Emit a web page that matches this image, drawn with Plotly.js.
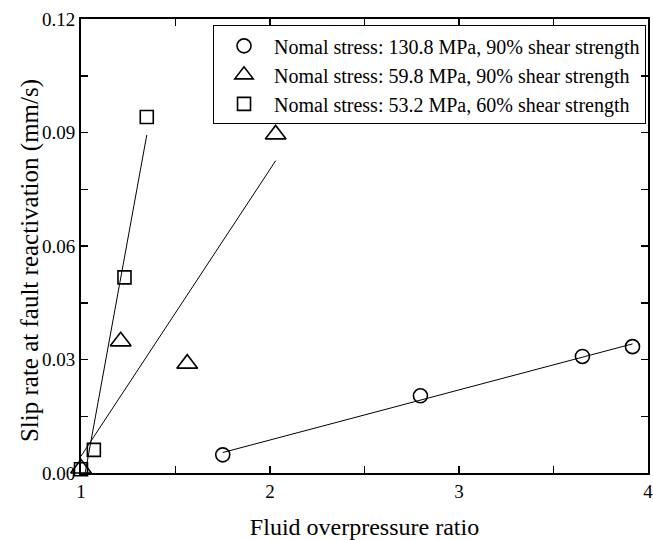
<!DOCTYPE html>
<html>
<head>
<meta charset="utf-8">
<script src="https://cdn.plot.ly/plotly-3.0.1.min.js"></script>
<style>
  html, body { margin: 0; padding: 0; background: #ffffff; }
  #chart { width: 653px; height: 540px; }
</style>
</head>
<body>
<div id="chart"></div>
<script>
// Fluid overpressure ratio (x) vs. slip rate at fault reactivation (mm/s) (y)
const seriesNames = [
  'Nomal stress: 130.8 MPa, 90% shear strength',
  'Nomal stress: 59.8 MPa, 90% shear strength',
  'Nomal stress: 53.2 MPa, 60% shear strength'
];

const circleX = [1.75, 2.796, 3.653, 3.918];
const circleY = [0.0048, 0.0204, 0.0308, 0.0334];

const triangleX = [1.0, 1.21, 1.562, 2.03];
const triangleY = [0.0012, 0.0348, 0.0289, 0.0895];

const squareX = [1.0, 1.068, 1.23, 1.348];
const squareY = [0.001, 0.0061, 0.0517, 0.0941];

const xTickVals = [1, 1.5, 2, 2.5, 3, 3.5, 4];
const xTickText = ['1', '', '2', '', '3', '', '4'];
const yTickVals = [0, 0.015, 0.03, 0.045, 0.06, 0.075, 0.09, 0.105, 0.12];
const yTickText = ['0.00', '', '0.03', '', '0.06', '', '0.09', '', '0.12'];

const xTitle = 'Fluid overpressure ratio';
const yTitle = 'Slip rate at fault reactivation (mm/s)';

// Least-squares straight line over the span of a series
function linearFit(xs, ys) {
  const n = xs.length;
  const mx = xs.reduce((a, b) => a + b, 0) / n;
  const my = ys.reduce((a, b) => a + b, 0) / n;
  let sxy = 0, sxx = 0;
  for (let i = 0; i < n; i++) {
    sxy += (xs[i] - mx) * (ys[i] - my);
    sxx += (xs[i] - mx) * (xs[i] - mx);
  }
  const slope = sxy / sxx;
  const icpt = my - slope * mx;
  const x0 = Math.min(...xs), x1 = Math.max(...xs);
  return { x: [x0, x1], y: [icpt + slope * x0, icpt + slope * x1] };
}

const FONT = 'Liberation Serif, Times New Roman, serif';

function fitTrace(xs, ys) {
  const f = linearFit(xs, ys);
  return {
    x: f.x, y: f.y, mode: 'lines', type: 'scatter',
    line: { color: '#000', width: 1 }, showlegend: false, hoverinfo: 'skip'
  };
}

function markerTrace(xs, ys, name, symbol, size) {
  return {
    x: xs, y: ys, name: name, mode: 'markers', type: 'scatter',
    marker: { symbol: symbol, size: size, color: '#000', line: { color: '#000', width: 1.6 } },
    cliponaxis: false
  };
}

const traces = [
  fitTrace(circleX, circleY),
  fitTrace(triangleX, triangleY),
  fitTrace(squareX, squareY),
  markerTrace(circleX, circleY, seriesNames[0], 'circle-open', 14),
  markerTrace(triangleX, triangleY, seriesNames[1], 'triangle-up-open', 18),
  markerTrace(squareX, squareY, seriesNames[2], 'square-open', 13)
];

const axisCommon = {
  showline: true, linecolor: '#000', linewidth: 2, mirror: 'allticks',
  ticks: 'inside', ticklen: 7, tickwidth: 1.5, tickcolor: '#000',
  showgrid: false, zeroline: false, ticklabeloverflow: 'allow',
  tickfont: { family: FONT, size: 19, color: '#000' }
};

const layout = {
  width: 653, height: 540,
  margin: { l: 81, r: 5, t: 19, b: 67 },
  paper_bgcolor: '#ffffff', plot_bgcolor: '#ffffff',
  font: { family: FONT, color: '#000' },
  xaxis: Object.assign({}, axisCommon, {
    range: [1, 4], tickmode: 'array', tickvals: xTickVals, ticktext: xTickText,
    title: { text: xTitle, font: { family: FONT, size: 24, color: '#000' }, standoff: 18 }
  }),
  yaxis: Object.assign({}, axisCommon, {
    range: [0, 0.12], tickmode: 'array', tickvals: yTickVals, ticktext: yTickText
  }),
  // vertical axis title, set a little below the plot centre
  annotations: [{
    text: yTitle, textangle: -90, showarrow: false,
    xref: 'paper', yref: 'paper', x: -0.09, y: 0.469,
    xanchor: 'center', yanchor: 'middle',
    font: { family: FONT, size: 25, color: '#000' }
  }],
  legend: {
    x: 0.9965, xanchor: 'right', y: 0.986, yanchor: 'top',
    bgcolor: 'rgba(255,255,255,0)', bordercolor: '#000', borderwidth: 1,
    font: { family: FONT, size: 20, color: '#000' },
    itemwidth: 50, tracegroupgap: 0
  },
  showlegend: true
};

Plotly.newPlot('chart', traces, layout, { staticPlot: true, displayModeBar: false });
</script>
</body>
</html>
